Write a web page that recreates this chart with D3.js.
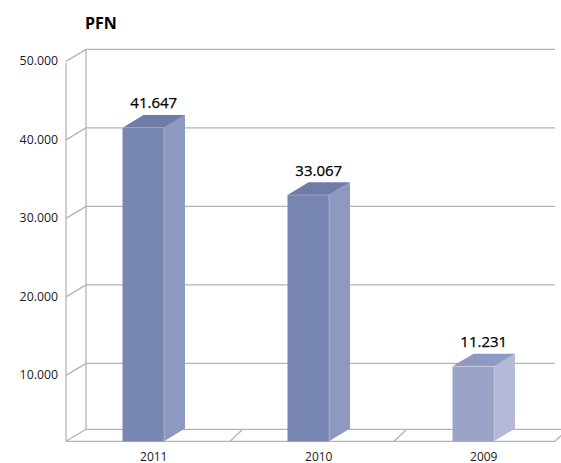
<!DOCTYPE html>
<html>
<head>
<meta charset="utf-8">
<script src="https://cdn.jsdelivr.net/npm/d3@7"></script>
<style>
  html, body { margin: 0; padding: 0; background: #fff; }
  svg { display: block; }
  text { font-family: "Open Sans", "Noto Sans", sans-serif; }
</style>
</head>
<body>
<svg id="chart" width="561" height="463"></svg>
<script>
// ---- data ----
const categories = ["2011", "2010", "2009"];
const values = [41647, 33067, 11231];
const valueLabels = ["41.647", "33.067", "11.231"];
const tickValues = [10000, 20000, 30000, 40000, 50000];
const tickLabels = ["10.000", "20.000", "30.000", "40.000", "50.000"];
const chartTitle = "PFN";

// ---- styles ----
const barColors = [
  { front: "#7886b2", side: "#8e99c1", top: "#6f7ca8" },
  { front: "#7886b2", side: "#8e99c1", top: "#6f7ca8" },
  { front: "#9ba4c8", side: "#b3b9d7", top: "#8f9ac3" }
];
const gridColor = "#b4b4b4";

const svg = d3.select("#chart");

// geometry
const frontLeft = 66, backLeft = 86;
const frontBottom = 441.3, backBottom = 429.3;
const wallDX = 20, wallDY = 12;
const barDX = 21, barDY = 12.7, barW = 41.5;
const rightEnd = 555;

// scales
const y = d3.scaleLinear().domain([0, 50000]).range([441.8, 49.4]); // back-wall scale
const x = d3.scaleBand().domain(categories).range([frontLeft, 558]);

// title
svg.append("text").attr("x", 85).attr("y", 29)
  .attr("font-size", 16).attr("font-weight", "bold").attr("fill", "#000")
  .text(chartTitle);

const g = svg.append("g").attr("fill", "none").attr("stroke", gridColor).attr("stroke-width", 1.3);

// back wall gridlines
g.selectAll(".grid").data(tickValues).join("line")
  .attr("x1", backLeft).attr("x2", rightEnd)
  .attr("y1", d => y(d)).attr("y2", d => y(d));

// back wall left edge
g.append("line").attr("x1", backLeft).attr("x2", backLeft)
  .attr("y1", y(50000)).attr("y2", backBottom);

// left wall front edge
g.append("line").attr("x1", frontLeft).attr("x2", frontLeft)
  .attr("y1", y(50000) + wallDY + 1).attr("y2", frontBottom);

// diagonal tick connectors on left wall
g.selectAll(".diag").data(tickValues).join("line")
  .attr("x1", frontLeft).attr("y1", d => y(d) + wallDY)
  .attr("x2", backLeft).attr("y2", d => y(d));

// floor
g.append("line").attr("x1", frontLeft).attr("x2", rightEnd)
  .attr("y1", frontBottom).attr("y2", frontBottom);
g.append("line").attr("x1", backLeft).attr("x2", 561)
  .attr("y1", backBottom).attr("y2", backBottom);
g.append("line").attr("x1", frontLeft).attr("y1", frontBottom)
  .attr("x2", backLeft).attr("y2", backBottom);
// floor dividers
const dividerXs = categories.slice(1).map(c => x(c));
g.selectAll(".div").data(dividerXs.concat([rightEnd])).join("line")
  .attr("x1", d => d).attr("y1", frontBottom)
  .attr("x2", d => d + 12).attr("y2", backBottom + 0.7);

// bars
const bars = svg.append("g");
categories.forEach((c, i) => {
  const bx = x(c) + 56.5 + i;
  const topBack = y(values[i]);
  const top = topBack + barDY;
  const col = barColors[i];
  const gb = bars.append("g");
  // front
  gb.append("rect").attr("x", bx).attr("y", top)
    .attr("width", barW).attr("height", frontBottom - top)
    .attr("fill", col.front);
  // side
  gb.append("polygon")
    .attr("points", [
      [bx + barW, top], [bx + barW + barDX, topBack],
      [bx + barW + barDX, frontBottom - barDY], [bx + barW, frontBottom]
    ].map(p => p.join(",")).join(" "))
    .attr("fill", col.side);
  // top
  gb.append("polygon")
    .attr("points", [
      [bx, top], [bx + barDX, topBack],
      [bx + barW + barDX, topBack], [bx + barW, top]
    ].map(p => p.join(",")).join(" "))
    .attr("fill", col.top);
  // subtle face edges
  gb.append("line").attr("x1", bx + barW).attr("x2", bx + barW)
    .attr("y1", top).attr("y2", frontBottom)
    .attr("stroke", "#ffffff").attr("stroke-opacity", 0.35).attr("stroke-width", 0.8);
  gb.append("line").attr("x1", bx).attr("x2", bx + barW)
    .attr("y1", top).attr("y2", top)
    .attr("stroke", "#ffffff").attr("stroke-opacity", 0.35).attr("stroke-width", 0.8);

  // value label
  svg.append("text")
    .attr("x", bx + (barW + barDX) / 2)
    .attr("y", topBack - 6.5)
    .attr("text-anchor", "middle")
    .attr("font-size", 15).attr("fill", "#000")
    .attr("stroke", "#000").attr("stroke-width", 0.25)
    .text(valueLabels[i]);

  // category label
  svg.append("text")
    .attr("x", bx + (barW + barDX) / 2)
    .attr("y", 460.5)
    .attr("text-anchor", "middle")
    .attr("font-size", 12).attr("fill", "#1a1a1a")
    .text(c);
});

// value axis labels
svg.selectAll(".tick").data(tickValues).join("text")
  .attr("x", 58)
  .attr("y", d => y(d) + 11.5)
  .attr("dy", "0.35em")
  .attr("text-anchor", "end")
  .attr("font-size", 12.3).attr("fill", "#1a1a1a")
  .text((d, i) => tickLabels[i]);
</script>
</body>
</html>
